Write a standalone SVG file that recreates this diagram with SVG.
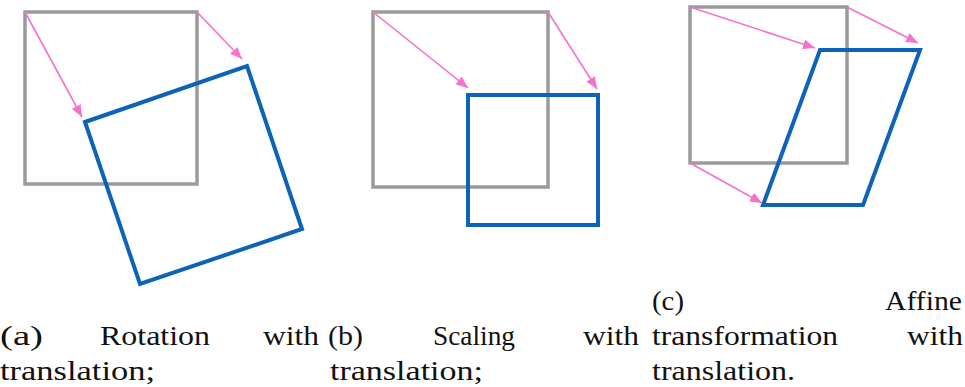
<svg xmlns="http://www.w3.org/2000/svg" width="965" height="387" viewBox="0 0 965 387">
<style>
.orig{fill:none;stroke:#9b9b9b;stroke-width:3.5}
.tr{fill:none;stroke:#0d63b8;stroke-width:4;stroke-linejoin:miter}
.arr{fill:none;stroke:#f572cc;stroke-width:1.6;marker-end:url(#ah)}
.cap{font-family:"Liberation Serif","Times New Roman",serif;font-size:28px;fill:#111}
</style>
<defs>
<marker id="ah" viewBox="0 0 12 10" refX="12" refY="5" markerWidth="12" markerHeight="10" markerUnits="userSpaceOnUse" orient="auto">
<path d="M0,0 L12,5 L0,10 Z" fill="#f572cc"/>
</marker>
</defs>
<rect width="965" height="387" fill="#ffffff"/>
<g id="panel-a">
<rect class="orig" x="25" y="12" width="172" height="172"/>
<polygon class="tr" points="85,122 247,66 302,229 140,284"/>
</g>
<g id="panel-b">
<rect class="orig" x="373" y="12" width="175" height="175"/>
<rect class="tr" x="468" y="95" width="130" height="130"/>
</g>
<g id="panel-c">
<rect class="orig" x="690" y="7" width="157" height="156"/>
<polygon class="tr" points="820,50 920,50 863,205 763,205"/>
</g>
<g id="connectors">
<path class="arr" d="M25,12 L82,117"/>
<path class="arr" d="M197,12 L242,59"/>
<path class="arr" d="M373,12 L468,88"/>
<path class="arr" d="M548,12 L597,89"/>
<path class="arr" d="M690,7 L815,48"/>
<path class="arr" d="M847,7 L918,43"/>
<path class="arr" d="M690,163 L762,203"/>
</g>
<g id="captions" class="cap">
<text x="0" y="345" textLength="43" lengthAdjust="spacingAndGlyphs">(a)</text>
<text x="100" y="345" textLength="110" lengthAdjust="spacingAndGlyphs">Rotation</text>
<text x="263" y="345" textLength="56" lengthAdjust="spacingAndGlyphs">with</text>
<text x="0" y="380" textLength="155" lengthAdjust="spacingAndGlyphs">translation;</text>
<text x="328" y="345" textLength="35" lengthAdjust="spacingAndGlyphs">(b)</text>
<text x="433" y="345" textLength="82" lengthAdjust="spacingAndGlyphs">Scaling</text>
<text x="583" y="345" textLength="56" lengthAdjust="spacingAndGlyphs">with</text>
<text x="330" y="380" textLength="153" lengthAdjust="spacingAndGlyphs">translation;</text>
<text x="652" y="310" textLength="32" lengthAdjust="spacingAndGlyphs">(c)</text>
<text x="885" y="310" textLength="77" lengthAdjust="spacingAndGlyphs">Affine</text>
<text x="652" y="345" textLength="186" lengthAdjust="spacingAndGlyphs">transformation</text>
<text x="907" y="345" textLength="56" lengthAdjust="spacingAndGlyphs">with</text>
<text x="652" y="380" textLength="143" lengthAdjust="spacingAndGlyphs">translation.</text>
</g>
</svg>
